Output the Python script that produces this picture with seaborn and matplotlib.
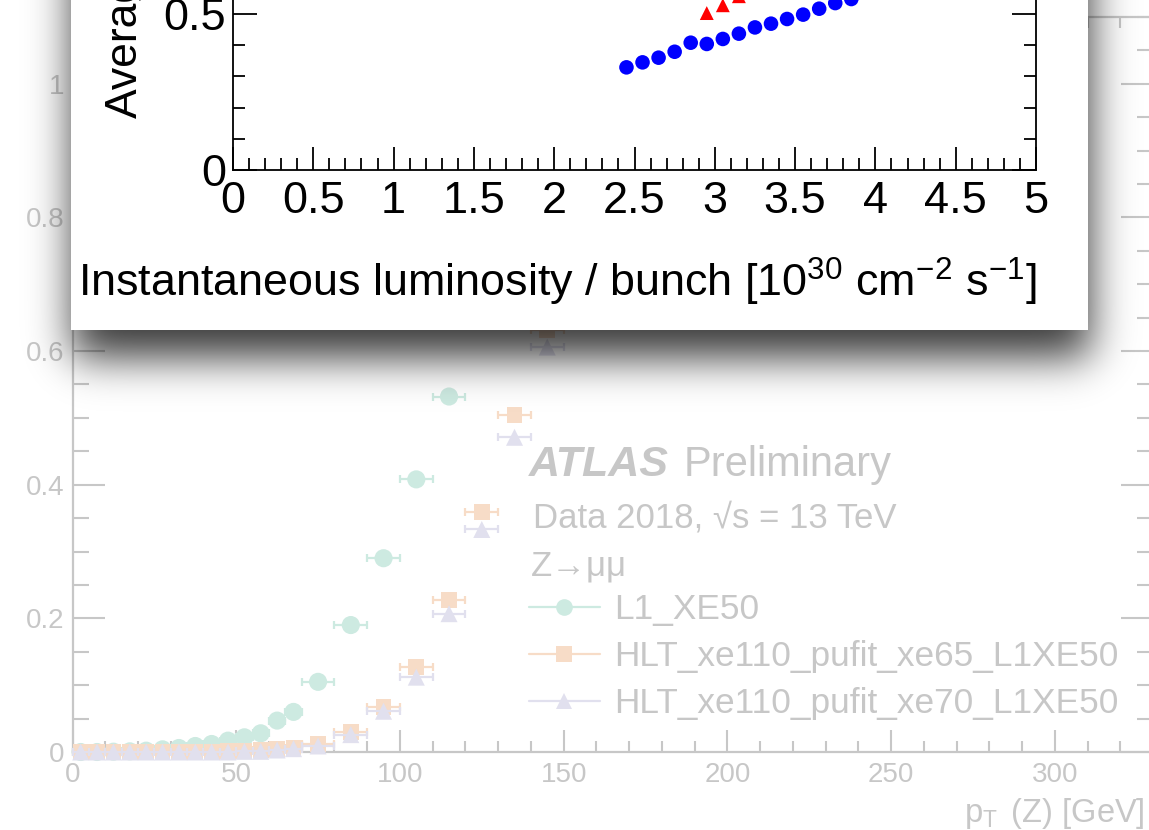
import math
import numpy as np
import matplotlib
matplotlib.use("Agg")
import matplotlib.pyplot as plt
import seaborn as sns
from matplotlib.lines import Line2D
from matplotlib.patches import Rectangle
from matplotlib.ticker import MultipleLocator, FuncFormatter

# ---------------- data ----------------
# Trigger efficiency vs pT(Z), Z->mumu, data 2018
pt_l1 = [2.5, 7.5, 12.5, 17.5, 22.5, 27.5, 32.5, 37.5, 42.5, 47.5, 52.5, 57.5,
         62.5, 67.5, 75, 85, 95, 105, 115]
pt_l1_halfwidth = [2.5] * 14 + [5] * 5
eff_l1 = [0.0, 0.0, 0.0005, 0.001, 0.002, 0.004, 0.006, 0.009, 0.012, 0.017,
          0.022, 0.028, 0.047, 0.060, 0.105, 0.190, 0.290, 0.408, 0.532]

pt_hlt = [2.5, 7.5, 12.5, 17.5, 22.5, 27.5, 32.5, 37.5, 42.5, 47.5, 52.5, 57.5,
          62.5, 67.5, 75, 85, 95, 105, 115, 125, 135, 145]
pt_hlt_halfwidth = [2.5] * 14 + [5] * 8
eff_xe65 = [0.0, 0.0, 0.0, 0.0, 0.0, 0.0, 0.0, 0.0, 0.0, 0.001, 0.001, 0.0025,
            0.005, 0.0065, 0.012, 0.030, 0.067, 0.127, 0.227, 0.359, 0.504, 0.631]
eff_xe70 = [0.0, 0.0, 0.0, 0.0, 0.0, 0.0, 0.0, 0.0, 0.0, 0.0, 0.001, 0.001,
            0.003, 0.005, 0.009, 0.026, 0.061, 0.112, 0.207, 0.333, 0.471, 0.606]

trigger_labels = ["L1_XE50", "HLT_xe110_pufit_xe65_L1XE50",
                  "HLT_xe110_pufit_xe70_L1XE50"]

# Average vs instantaneous luminosity per bunch
lumi_blue = [2.45, 2.55, 2.65, 2.75, 2.85, 2.95, 3.05, 3.15, 3.25, 3.35, 3.45,
             3.55, 3.65, 3.75, 3.85]
avg_blue = [0.329, 0.345, 0.360, 0.379, 0.408, 0.404, 0.420, 0.437, 0.457,
            0.469, 0.484, 0.498, 0.517, 0.535, 0.548]
lumi_red = [2.95, 3.05, 3.15]
avg_red = [0.503, 0.528, 0.557]

# ---------------- style ----------------
sns.set_theme(style="ticks")
plt.rcParams["font.family"] = ["Liberation Sans", "DejaVu Sans"]
plt.rcParams["mathtext.fontset"] = "custom"
plt.rcParams["mathtext.rm"] = "Liberation Sans"
plt.rcParams["mathtext.it"] = "Liberation Sans:italic"
plt.rcParams["mathtext.bf"] = "Liberation Sans:bold"

W, H = 1149, 830
fig = plt.figure(figsize=(W / 100, H / 100), dpi=100)
fig.patch.set_facecolor("white")

FADE = 0.78


def faded(c):
    c = np.asarray(matplotlib.colors.to_rgb(c))
    return tuple(c * (1 - FADE) + FADE)


grey = faded("black")
pal = [faded(c) for c in sns.color_palette("Dark2", 3)]
fmt_g = FuncFormatter(lambda v, p: f"{v:g}")

# ---------------- background panel: efficiency ----------------
ax_bg = fig.add_axes([72.5 / W, (H - 752) / H, (1153 - 72.5) / W, (752 - 17) / H],
                     zorder=0)
ax_bg.set_xlim(0, 330)
ax_bg.set_ylim(0, 1.1)
for s in ax_bg.spines.values():
    s.set_color(grey)
    s.set_linewidth(1.6)
ax_bg.xaxis.set_major_locator(MultipleLocator(50))
ax_bg.xaxis.set_minor_locator(MultipleLocator(10))
ax_bg.yaxis.set_major_locator(MultipleLocator(0.2))
ax_bg.yaxis.set_minor_locator(MultipleLocator(0.05))
ax_bg.xaxis.set_major_formatter(fmt_g)
ax_bg.yaxis.set_major_formatter(fmt_g)
ax_bg.tick_params(which="both", direction="in", top=True, right=True,
                  color=grey, labelcolor=grey, labelsize=20, width=1.5)
ax_bg.tick_params(axis="x", which="major", length=16, pad=7)
ax_bg.tick_params(axis="x", which="minor", length=8)
ax_bg.tick_params(axis="y", which="major", length=23, pad=6)
ax_bg.tick_params(axis="y", which="minor", length=11.5)

series = [(pt_l1, pt_l1_halfwidth, eff_l1, "o", 170),
          (pt_hlt, pt_hlt_halfwidth, eff_xe65, "s", 130),
          (pt_hlt, pt_hlt_halfwidth, eff_xe70, "^", 150)]
for i, (x, xe, y, m, size) in enumerate(series):
    ax_bg.errorbar(x, y, xerr=xe, fmt="none", ecolor=pal[i], elinewidth=1.6,
                   capsize=3.2, capthick=1.6, zorder=2 + i, clip_on=False)
    sns.scatterplot(x=x, y=y, ax=ax_bg, marker=m, s=size, color=pal[i],
                    edgecolor="none", linewidth=0, zorder=3 + i, clip_on=False,
                    legend=False)

ax_bg.set_xlabel("")
ax_bg.set_ylabel("")
fig.text(1145 / W, (H - 822) / H, r"p$_{\mathrm{T}}\,$ (Z) [GeV]", ha="right",
         va="baseline", fontsize=23.5, color=grey, zorder=1)

fig.text(529 / W, (H - 476) / H, "ATLAS", fontsize=31, fontweight="bold",
         style="italic", color=grey, va="baseline", zorder=1)
fig.text(684 / W, (H - 476) / H, "Preliminary", fontsize=30, color=grey,
         va="baseline", zorder=1)
fig.text(533 / W, (H - 528) / H, "Data 2018, √s = 13 TeV", fontsize=25,
         color=grey, va="baseline", zorder=1)
fig.text(531 / W, (H - 575) / H, "Z→μμ", fontsize=25, color=grey,
         va="baseline", zorder=1)

handles = [Line2D([0], [0], color=pal[i], lw=1.6, marker=m, ms=12,
                  markeredgewidth=0) for i, m in enumerate(["o", "s", "^"])]
leg = ax_bg.legend(handles, trigger_labels, loc="upper left",
                   bbox_to_anchor=(529 / W, (H - 593) / H),
                   bbox_transform=fig.transFigure, frameon=False,
                   fontsize=25.4, handlelength=2.0, handletextpad=0.42,
                   labelspacing=0.40, borderpad=0, borderaxespad=0)
for t in leg.get_texts():
    t.set_color(grey)

# ---------------- drop shadow and white panel ----------------
erf = np.vectorize(math.erf)


def phi(z):
    return 0.5 * (1 + erf(z / math.sqrt(2)))


xs = np.arange(W) + 0.5
ys = np.arange(H) + 0.5
sig, amp, dx, dy = 21.0, 0.78, 2.0, 28.0
box_l, box_r, box_b = 71, 1088, 330
shadow_x = phi((xs - (box_l + dx)) / sig) - phi((xs - (box_r + dx)) / sig)
shadow_y = phi(((box_b + dy) - ys) / sig)
rgba = np.zeros((H, W, 4))
rgba[..., 3] = amp * np.outer(shadow_y, shadow_x)

ax_sh = fig.add_axes([0, 0, 1, 1], zorder=5)
ax_sh.set_axis_off()
ax_sh.set_xlim(0, W)
ax_sh.set_ylim(H, 0)
ax_sh.imshow(rgba, extent=(0, W, H, 0), origin="upper", aspect="auto",
             interpolation="bilinear", zorder=1)
ax_sh.add_patch(Rectangle((box_l, -20), box_r - box_l, box_b + 20,
                          facecolor="white", edgecolor="none", zorder=3))

# ---------------- front panel: average vs luminosity ----------------
ax_in = fig.add_axes([233 / W, (H - 170) / H, (1036 - 233) / W, 312 / H],
                     zorder=10)
ax_in.patch.set_alpha(0)
ax_in.set_xlim(0, 5)
ax_in.set_ylim(0, 1)
for s in ax_in.spines.values():
    s.set_color("black")
    s.set_linewidth(1.3)
ax_in.xaxis.set_major_locator(MultipleLocator(0.5))
ax_in.xaxis.set_minor_locator(MultipleLocator(0.1))
ax_in.yaxis.set_major_locator(MultipleLocator(0.5))
ax_in.yaxis.set_minor_locator(MultipleLocator(0.1))
ax_in.xaxis.set_major_formatter(fmt_g)
ax_in.yaxis.set_major_formatter(fmt_g)
ax_in.tick_params(which="both", direction="in", top=True, right=True,
                  color="black", labelcolor="black", labelsize=32.5, width=1.3)
ax_in.tick_params(axis="x", which="major", length=16.5, pad=8)
ax_in.tick_params(axis="x", which="minor", length=8.5)
ax_in.tick_params(axis="y", which="major", length=17, pad=5)
ax_in.tick_params(axis="y", which="minor", length=8.5)

sns.scatterplot(x=lumi_blue, y=avg_blue, ax=ax_in, marker="o", s=110,
                color="#0000ff", edgecolor="none", linewidth=0, legend=False,
                zorder=3)
sns.scatterplot(x=lumi_red, y=avg_red, ax=ax_in, marker="^", s=100,
                color="#ff0000", edgecolor="none", linewidth=0, legend=False,
                zorder=3)
ax_in.set_xlabel("")
ax_in.set_ylabel("")

fig.text(1036 / W, (H - 297) / H,
         r"Instantaneous luminosity / bunch [10$^{30}$ cm$^{-2}$ s$^{-1}$]",
         ha="right", va="baseline", fontsize=32.3, color="black", zorder=20)
fig.text(126 / W, (H - 118) / H, "Average processing time [s]", rotation=90,
         ha="center", va="bottom", fontsize=32, color="black", zorder=20)

fig.savefig("out.png", dpi=100, facecolor="white")
